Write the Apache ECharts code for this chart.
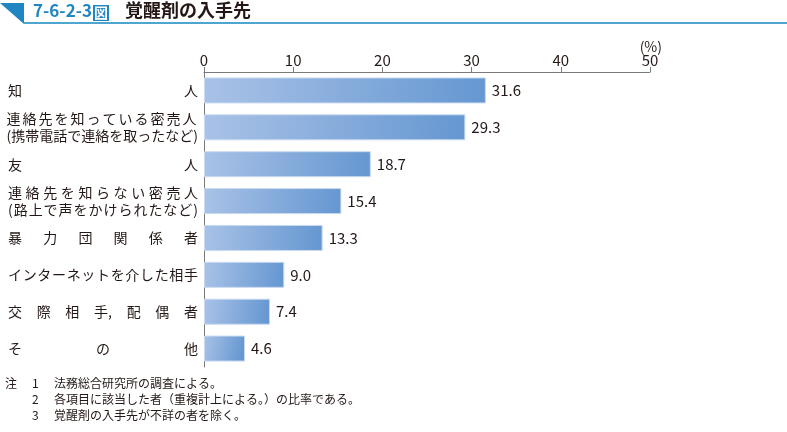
<!DOCTYPE html>
<html><head><meta charset="utf-8">
<script src="https://cdn.jsdelivr.net/npm/echarts@6/dist/echarts.min.js"></script>
<style>html,body{margin:0;padding:0;background:#fff;}#c{width:787px;height:432px;}</style>
</head><body><div id="c"></div>
<script>
var categories = [
  ['知人'],
  ['連絡先を知っている密売人','(携帯電話で連絡を取ったなど)'],
  ['友人'],
  ['連絡先を知らない密売人','(路上で声をかけられたなど)'],
  ['暴力団関係者'],
  ['インターネットを介した相手'],
  ['交際相手,配偶者'],
  ['その他']
];
var values = [31.6, 29.3, 18.7, 15.4, 13.3, 9.0, 7.4, 4.6];
var xTicks = [0, 10, 20, 30, 40, 50];
var notes = [
  ['注', '1', '法務総合研究所の調査による。'],
  ['', '2', '各項目に該当した者（重複計上による。）の比率である。'],
  ['', '3', '覚醒剤の入手先が不詳の者を除く。']
];

var FONT = '"Noto Sans CJK JP", sans-serif';
var LFS = 14;
var LABEL_W = 190;
var cv = document.createElement('canvas').getContext('2d');
cv.font = LFS + 'px ' + FONT;
var rich = {};
var styleId = 0;
function distLine(line) {
  var chars = Array.from(line);
  var toks = [];
  chars.forEach(function (c) {
    if (c === ',' && toks.length) toks[toks.length - 1] += c; else toks.push(c);
  });
  var ws = toks.map(function (c) { return cv.measureText(c).width; });
  var sum = ws.reduce(function (a, b) { return a + b; }, 0);
  var n = toks.length;
  var gap = n > 1 ? Math.max(0, (LABEL_W - sum) / (n - 1)) : 0;
  var out = '';
  toks.forEach(function (c, i) {
    var name = 't' + (styleId++);
    rich[name] = {
      width: i < n - 1 ? ws[i] + gap : ws[i],
      align: 'left', fontSize: LFS, fontFamily: FONT, color: '#231815', lineHeight: 17
    };
    out += '{' + name + '|' + c + '}';
  });
  return out;
}
var labelMap = {};
var catNames = categories.map(function (lines) {
  var key = lines.join('');
  labelMap[key] = lines.map(distLine).join('\n');
  return key;
});

var chart = echarts.init(document.getElementById('c'));
chart.setOption({
  animation: false,
  grid: { left: 204, right: 137, top: 72, bottom: 65, containLabel: false },
  xAxis: {
    type: 'value', position: 'top', min: 0, max: 50, interval: 10,
    axisLine: { show: true, lineStyle: { color: '#7a7a7a', width: 1 } },
    axisTick: { show: true, length: 5, lineStyle: { color: '#7a7a7a' } },
    splitLine: { show: false },
    axisLabel: { fontSize: 15, color: '#231815', fontFamily: FONT, margin: 4,
      formatter: function (v) { return xTicks.indexOf(v) >= 0 ? String(v) : ''; } }
  },
  yAxis: {
    type: 'category', inverse: true, data: catNames,
    axisLine: { show: true, lineStyle: { color: '#7a7a7a', width: 1 } },
    axisTick: { show: false },
    axisLabel: { margin: 6, formatter: function (v) { return labelMap[v]; }, rich: rich }
  },
  series: [{
    type: 'bar', data: values, barWidth: 26,
    itemStyle: {
      color: new echarts.graphic.LinearGradient(0, 0, 1, 0.3, [
        { offset: 0, color: '#a9c2e7' }, { offset: 1, color: '#6597d1' }
      ]),
      borderColor: '#c9daf0', borderWidth: 1
    },
    label: { show: true, position: 'right', distance: 6, fontSize: 15, color: '#231815',
      fontFamily: FONT, formatter: function (p) { return p.value.toFixed(1); } }
  }],
  graphic: [
    { type: 'polygon', shape: { points: [[0, 3], [24, 3], [24, 24]] }, style: { fill: '#1f86c3' } },
    { type: 'rect', shape: { x: 24, y: 22, width: 763, height: 2 }, style: { fill: '#4ea6d0' } },
    { type: 'text', left: 33, top: 2, style: { text: '7-6-2-3', fontSize: 17, fontWeight: 'bold', fill: '#1f86c3', fontFamily: FONT } },
    { type: 'rect', shape: { x: 93, y: 5, width: 16, height: 16 }, style: { fill: '#1f86c3' } },
    { type: 'text', x: 101, y: 13, style: { text: '図', fontSize: 14, fontWeight: 'bold', fill: '#fff', fontFamily: FONT, align: 'center', verticalAlign: 'middle' } },
    { type: 'text', left: 125, top: 1, style: { text: '覚醒剤の入手先', fontSize: 18, fontWeight: 'bold', fill: '#231815', fontFamily: FONT } },
    { type: 'text', x: 662, y: 47, style: { text: '(%)', fontSize: 14, fill: '#231815', fontFamily: FONT, align: 'right', verticalAlign: 'middle' } }
  ].concat(notes.reduce(function (acc, n, i) {
    var y = 383 + i * 16;
    acc.push({ type: 'text', x: 5, y: y, style: { text: n[0], fontSize: 12, fill: '#231815', fontFamily: FONT, verticalAlign: 'middle' } });
    acc.push({ type: 'text', x: 32, y: y, style: { text: n[1], fontSize: 12, fill: '#231815', fontFamily: FONT, verticalAlign: 'middle' } });
    acc.push({ type: 'text', x: 54, y: y, style: { text: n[2], fontSize: 12, fill: '#231815', fontFamily: FONT, verticalAlign: 'middle' } });
    return acc;
  }, []))
});
</script></body></html>
